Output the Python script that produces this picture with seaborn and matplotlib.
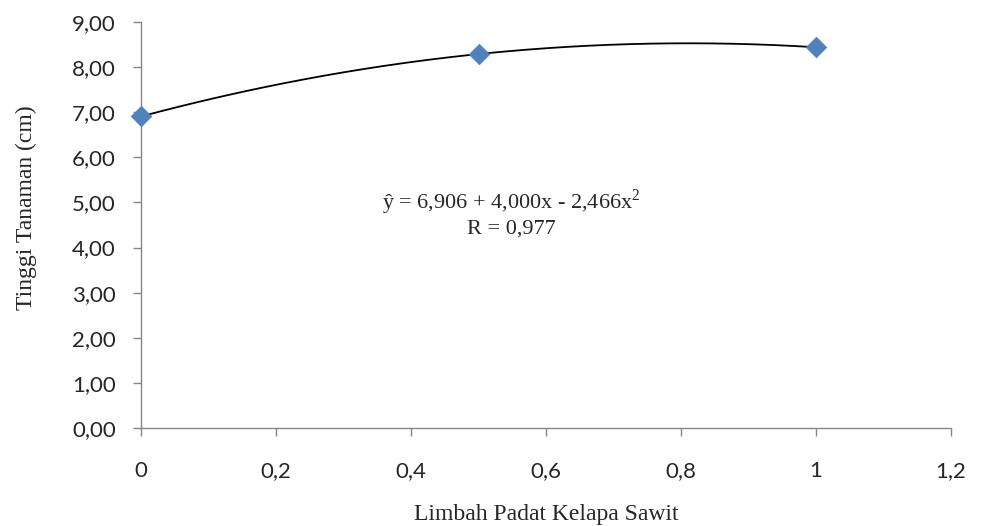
import numpy as np
import pandas as pd
import matplotlib
matplotlib.use("Agg")
import matplotlib.pyplot as plt
import seaborn as sns

# Data
x_vals = [0.0, 0.5, 1.0]
y_vals = [6.906, 8.30, 8.44]
coef = [6.906, 4.000, -2.466]   # trendline: a + b x + c x^2
x_ticks = [0, 0.2, 0.4, 0.6, 0.8, 1.0, 1.2]
x_tick_labels = ["0", "0,2", "0,4", "0,6", "0,8", "1", "1,2"]
y_ticks = [0, 1, 2, 3, 4, 5, 6, 7, 8, 9]
y_tick_labels = ["0,00", "1,00", "2,00", "3,00", "4,00", "5,00", "6,00", "7,00", "8,00", "9,00"]
eq_text = "ŷ = 6,906 + 4,000x - 2,466x$^{2}$"
r_text = "R = 0,977"
x_label = "Limbah Padat Kelapa Sawit"
y_label = "Tinggi Tanaman (cm)"

sns.set_style("white")
plt.rcParams['font.family'] = ['Lato', 'DejaVu Sans']
plt.rcParams['mathtext.fontset'] = 'custom'
plt.rcParams['mathtext.rm'] = 'Liberation Serif'

fig = plt.figure(figsize=(9.9, 5.26), dpi=100)
ax = fig.add_axes([141/990, 1 - 428/526, (951 - 141)/990, (428 - 22)/526])

# trendline
xs = np.linspace(min(x_vals), max(x_vals), 200)
ys = coef[0] + coef[1] * xs + coef[2] * xs ** 2
df_line = pd.DataFrame({"x": xs, "y": ys})
sns.lineplot(data=df_line, x="x", y="y", ax=ax, color="black", linewidth=1.3, zorder=2)

df = pd.DataFrame({"x": x_vals, "y": y_vals})
sns.scatterplot(data=df, x="x", y="y", ax=ax, marker="D", s=110, color="#4F81BD",
                edgecolor="#4F81BD", linewidth=0.5, zorder=3, clip_on=False)

ax.set_xlim(0, 1.2)
ax.set_ylim(0, 9)
ax.set_xticks(x_ticks)
ax.set_xticklabels(x_tick_labels)
ax.set_yticks(y_ticks)
ax.set_yticklabels(y_tick_labels)

for s in ["top", "right"]:
    ax.spines[s].set_visible(False)
for s in ["left", "bottom"]:
    ax.spines[s].set_color("#868686")
    ax.spines[s].set_linewidth(1.0)

ax.tick_params(axis="x", direction="out", length=6, width=1, color="#868686",
               labelsize=16, pad=18, bottom=True)
ax.tick_params(axis="y", direction="out", length=6, width=1, color="#868686",
               labelsize=16, pad=12, left=True)

ax.set_xlabel(x_label, fontsize=17, family="Liberation Serif", labelpad=16)
ax.set_ylabel(y_label, fontsize=17, family="Liberation Serif")
ax.yaxis.set_label_coords(-0.128, 0.542)

ax.text(0.548, 5.01, eq_text, fontsize=16, family="Liberation Serif", ha="center", va="center")
ax.text(0.548, 4.41, r_text, fontsize=16, family="Liberation Serif", ha="center", va="center")

fig.savefig("out.png", dpi=100)
